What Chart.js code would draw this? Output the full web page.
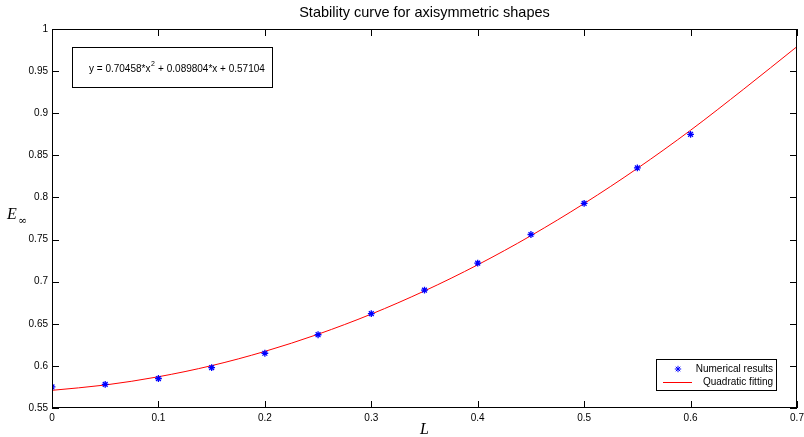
<!DOCTYPE html>
<html>
<head>
<meta charset="utf-8">
<script src="https://cdn.jsdelivr.net/npm/chart.js@4/dist/chart.umd.min.js"></script>
<style>
  html, body { margin: 0; padding: 0; background: #fff; }
  #wrap { width: 804px; height: 437px; position: relative; }
</style>
</head>
<body>
<div id="wrap"><canvas id="c" width="804" height="437"></canvas></div>
<script>
  // numerical results
  const numX = [0, 0.05, 0.1, 0.15, 0.2, 0.25, 0.3, 0.35, 0.4, 0.45, 0.5, 0.55, 0.6];
  const numY = [0.575, 0.578, 0.585, 0.598, 0.615, 0.637, 0.662, 0.690, 0.722, 0.756, 0.793, 0.835, 0.875];

  // red fitted curve
  const fitX = [0, 0.05, 0.1, 0.15, 0.2, 0.25, 0.3, 0.35, 0.4, 0.45, 0.5, 0.55, 0.6, 0.65, 0.7];
  const fitY = [0.571, 0.5773, 0.5871, 0.6003, 0.6172, 0.6376, 0.6615, 0.689, 0.72, 0.7546, 0.7928, 0.8345, 0.8798, 0.9287, 0.9791];

  const xTicks = [0, 0.1, 0.2, 0.3, 0.4, 0.5, 0.6, 0.7];
  const yTicks = [0.55, 0.6, 0.65, 0.7, 0.75, 0.8, 0.85, 0.9, 0.95, 1];

  const titleText = "Stability curve for axisymmetric shapes";
  const eqText = ["y = 0.70458*x", "2", " + 0.089804*x + 0.57104"];
  const legendLabels = ["Numerical results", "Quadratic fitting"];

  const FONT = "'Liberation Sans', Arial, Helvetica, sans-serif";
  const fmt = (v) => String(+(+v).toFixed(2));

  // frame, inward ticks, x tick labels, title, labels, equation box, legend
  const decor = {
    id: "decor",
    afterDraw(chart) {
      const ctx = chart.ctx;
      const a = chart.chartArea;
      const xs = chart.scales.x, ys = chart.scales.y;
      const tl = 7;
      ctx.save();
      ctx.strokeStyle = "#000";
      ctx.lineWidth = 1;
      ctx.strokeRect(Math.round(a.left) + 0.5, Math.round(a.top) + 0.5,
        Math.round(a.right - a.left) - 1, Math.round(a.bottom - a.top) - 1);
      ctx.beginPath();
      xTicks.forEach((t) => {
        const px = Math.round(xs.getPixelForValue(t)) + 0.5;
        ctx.moveTo(px, a.bottom); ctx.lineTo(px, a.bottom - tl);
        ctx.moveTo(px, a.top); ctx.lineTo(px, a.top + tl);
      });
      yTicks.forEach((t) => {
        const py = Math.round(ys.getPixelForValue(t)) + 0.5;
        ctx.moveTo(a.left, py); ctx.lineTo(a.left + tl, py);
        ctx.moveTo(a.right, py); ctx.lineTo(a.right - tl, py);
      });
      ctx.stroke();

      ctx.fillStyle = "#000";
      ctx.textAlign = "center";
      ctx.textBaseline = "middle";

      // x tick labels
      ctx.font = "10px " + FONT;
      xTicks.forEach((t) => {
        ctx.fillText(fmt(t), xs.getPixelForValue(t), 418);
      });

      // title
      ctx.font = "14.5px " + FONT;
      ctx.fillText(titleText, (a.left + a.right) / 2, 13);

      // axis labels
      ctx.font = "italic 16px 'Liberation Serif', 'DejaVu Serif', serif";
      ctx.fillText("L", (a.left + a.right) / 2, 430);
      ctx.textAlign = "left";
      ctx.fillText("E", 7, 215);
      ctx.font = "11px 'DejaVu Serif', serif";
      ctx.fillText("\u221e", 18, 221);

      // equation box
      ctx.strokeRect(72.5, 47.5, 200, 40);
      ctx.font = "10px " + FONT;
      ctx.textAlign = "left";
      let x = 89;
      ctx.fillText(eqText[0], x, 69);
      x += ctx.measureText(eqText[0]).width;
      ctx.font = "7px " + FONT;
      ctx.fillText(eqText[1], x + 0.5, 64);
      x += ctx.measureText(eqText[1]).width + 1;
      ctx.font = "10px " + FONT;
      ctx.fillText(eqText[2], x, 69);

      // legend
      ctx.fillStyle = "#fff";
      ctx.fillRect(656, 359, 121, 32);
      ctx.strokeRect(656.5, 359.5, 120, 31);
      ctx.fillStyle = "#000";
      ctx.textAlign = "right";
      ctx.font = "10px " + FONT;
      ctx.fillText(legendLabels[0], 773, 369);
      ctx.fillText(legendLabels[1], 773, 382);
      // marker sample
      ctx.strokeStyle = "#0000ff";
      const mx = 678, my = 369, r = 3.2;
      ctx.beginPath();
      ctx.moveTo(mx - r, my); ctx.lineTo(mx + r, my);
      ctx.moveTo(mx, my - r); ctx.lineTo(mx, my + r);
      const d = r * 0.7071;
      ctx.moveTo(mx - d, my - d); ctx.lineTo(mx + d, my + d);
      ctx.moveTo(mx - d, my + d); ctx.lineTo(mx + d, my - d);
      ctx.stroke();
      ctx.strokeStyle = "#ff0000";
      ctx.beginPath();
      ctx.moveTo(663, 382.5); ctx.lineTo(692, 382.5);
      ctx.stroke();
      ctx.restore();
    },
  };

  new Chart(document.getElementById("c"), {
    type: "scatter",
    data: {
      datasets: [
        {
          label: legendLabels[1],
          data: fitX.map((x, i) => ({ x, y: fitY[i] })),
          showLine: true,
          borderColor: "#ff0000",
          borderWidth: 1,
          pointRadius: 0,
          cubicInterpolationMode: "monotone",
          order: 2,
        },
        {
          label: legendLabels[0],
          data: numX.map((x, i) => ({ x, y: numY[i] })),
          showLine: false,
          pointStyle: "star",
          pointRadius: 3.4,
          borderColor: "#0000ff",
          backgroundColor: "#0000ff",
          borderWidth: 1.3,
          order: 1,
        },
      ],
    },
    options: {
      responsive: false,
      animation: false,
      devicePixelRatio: 1,
      layout: { padding: { left: 0, top: 29, right: 7, bottom: 0 } },
      plugins: { legend: { display: false }, title: { display: false }, tooltip: { enabled: false } },
      scales: {
        x: {
          type: "linear",
          min: 0, max: 0.7,
          afterFit: (s) => { s.height = 29; },
          grid: { display: false, drawTicks: false },
          border: { display: false },
          ticks: { display: false },
        },
        y: {
          min: 0.55, max: 1,
          afterFit: (s) => { s.width = 52; },
          afterBuildTicks: (s) => { s.ticks = yTicks.map((v) => ({ value: v })); },
          grid: { display: false, drawTicks: false },
          border: { display: false },
          ticks: { color: "#000", font: { family: FONT, size: 10 }, padding: 4, callback: fmt },
        },
      },
    },
    plugins: [decor],
  });
</script>
</body>
</html>
